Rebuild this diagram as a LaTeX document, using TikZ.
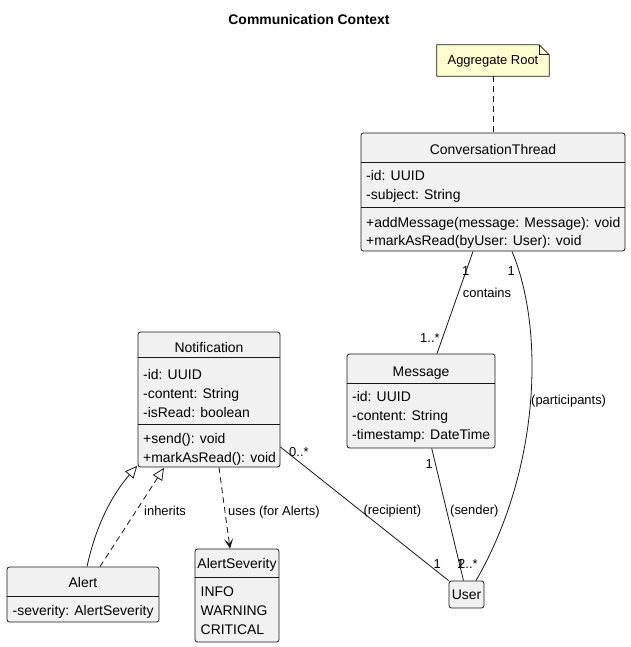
\documentclass[tikz,border=0pt]{standalone}
\usepackage{fontspec}
\setmainfont{Liberation Sans}
\usetikzlibrary{arrows.meta,calc}
\definecolor{boxfill}{HTML}{F1F1F1}
\definecolor{boxline}{HTML}{181818}
\definecolor{notefill}{HTML}{FEFECE}
\begin{document}
\begin{tikzpicture}[x=1bp,y=-1bp,
  cls/.style={draw=boxline, fill=boxfill, rounded corners=2.5bp, inner sep=0pt, line width=0.8bp},
  sepline/.style={draw=boxline, line width=0.8bp},
  cname/.style={anchor=base, inner sep=0pt, font=\fontsize{14}{16}\selectfont},
  mem/.style={anchor=base west, inner sep=0pt, font=\fontsize{14}{16}\selectfont},
  elabel/.style={anchor=base west, inner sep=0pt, font=\fontsize{13}{15}\selectfont},
  conn/.style={draw=boxline, line width=0.8bp},
  dashedconn/.style={draw=boxline, line width=0.8bp, dash pattern=on 6bp off 4bp},
  inh/.style={-{Triangle[open,length=12bp,width=11bp]}},
  dep/.style={-{Stealth[length=10bp,width=9bp,inset=5bp]}}
]
\useasboundingbox (0,0) rectangle (631,647);
\fill[white] (0,0) rectangle (631,647);

% title
\node[anchor=base, inner sep=0pt, font=\fontsize{14}{16}\selectfont\bfseries] (title) at (309,25) {Communication Context};

% note
\node[minimum width=112bp, minimum height=31bp, inner sep=0pt] (note) at (493,60.5) {};
\draw[draw=boxline, fill=notefill, line width=0.8bp]
  (note.north west) -- ($(note.north east)+(-10,0)$) -- ($(note.north east)+(0,10)$)
  -- (note.south east) -- (note.south west) -- cycle;
\draw[draw=boxline, line width=0.8bp] ($(note.north east)+(-10,0)$) -- ($(note.north east)+(-10,10)$) -- ($(note.north east)+(0,10)$);
\node[elabel, anchor=base] (notetext) at (493,65) {Aggregate Root};

% ConversationThread
\node[cls, minimum width=264bp, minimum height=118bp] (ct) at (493,192) {};
\draw[sepline] (ct.west |- 0,162) -- (ct.east |- 0,162);
\draw[sepline] (ct.west |- 0,207) -- (ct.east |- 0,207);
\node[cname] (ctn) at (493,155) {ConversationThread};
\node[mem] (ct1) at (366,181) {-id: UUID};
\node[mem] (ct2) at (366,199) {-subject: String};
\node[mem] (ct3) at (366,227) {+addMessage(message: Message): void};
\node[mem] (ct4) at (366,245) {+markAsRead(byUser: User): void};

% Message
\node[cls, minimum width=148bp, minimum height=94bp] (msg) at (421,401) {};
\draw[sepline] (msg.west |- 0,383) -- (msg.east |- 0,383);
\node[cname] (msgn) at (421,376) {Message};
\node[mem] (m1) at (352,401.5) {-id: UUID};
\node[mem] (m2) at (352,420.5) {-content: String};
\node[mem] (m3) at (352,439.5) {-timestamp: DateTime};

% Notification
\node[cls, minimum width=142bp, minimum height=135bp] (nt) at (209,399.5) {};
\draw[sepline] (nt.west |- 0,357) -- (nt.east |- 0,357);
\draw[sepline] (nt.west |- 0,424) -- (nt.east |- 0,424);
\node[cname] (ntn) at (209,352) {Notification};
\node[mem] (n1) at (143,379) {-id: UUID};
\node[mem] (n2) at (143,398) {-content: String};
\node[mem] (n3) at (143,417) {-isRead: boolean};
\node[mem] (n4) at (143,443) {+send(): void};
\node[mem] (n5) at (143,462) {+markAsRead(): void};

% User
\node[cls, minimum width=35bp, minimum height=27bp] (user) at (466.5,594.5) {};
\node[cname] (usern) at (466.5,599) {User};

% Alert
\node[cls, minimum width=152bp, minimum height=55bp] (al) at (83,594.5) {};
\draw[sepline] (al.west |- 0,596) -- (al.east |- 0,596);
\node[cname] (aln) at (83,587) {Alert};
\node[mem] (a1) at (12.5,615.5) {-severity: AlertSeverity};

% AlertSeverity
\node[cls, minimum width=84bp, minimum height=93bp] (as) at (237,595.5) {};
\draw[sepline] (as.west |- 0,577.5) -- (as.east |- 0,577.5);
\node[cname] (asn) at (237,568.3) {AlertSeverity};
\node[mem] (s1) at (200.5,596) {INFO};
\node[mem] (s2) at (200.5,615) {WARNING};
\node[mem] (s3) at (200.5,634) {CRITICAL};

% note link
\draw[dashedconn] (note.south) -- (ct.north);

% contains
\draw[conn] ($(ct.south)+(-20,0)$) -- ($(msg.north)+(16,0)$);
\node[elabel] (l1) at (462,275) {1};
\node[elabel] (l2) at (462.7,297) {contains};
\node[elabel] (l3) at (420,342.7) {1..*};

% participants
\draw[conn] ($(ct.south)+(19,0)$) .. controls (545,330) and (540,470) .. ($(user.north)+(9.5,0)$);
\node[elabel] (l4) at (507.5,275) {1};
\node[elabel] (l5) at (531,404) {(participants)};
\node[elabel] (l6) at (458,568) {2..*};

% sender
\draw[conn] ($(msg.south)+(10.7,0)$) -- ($(user.north)+(-3,0)$);
\node[elabel] (l7) at (425.5,468) {1};
\node[elabel] (l8) at (450,514) {(sender)};
\node[elabel] (l9) at (457,568) {1};

% recipient
\draw[conn] ($(nt.east)+(0,47.5)$) -- (user.north west);
\node[elabel] (l10) at (289,456) {0..*};
\node[elabel] (l11) at (363.3,514) {(recipient)};
\node[elabel] (l12) at (433.5,568) {1};

% inheritance
\draw[conn, inh] ($(al.north)+(4,0)$) .. controls (96,525) and (112,495) .. ($(nt.south west)+(-0.5,-1.5)$);
\draw[dashedconn, inh] ($(al.north)+(17,0)$) -- ($(nt.south)+(-45,0.5)$);
\node[elabel] (l13) at (144,515) {inherits};

% uses
\draw[dashedconn, dep] ($(nt.south)+(10,0)$) -- ($(as.north)+(-7,0)$);
\node[elabel] (l14) at (228,515) {uses (for Alerts)};
\end{tikzpicture}
\end{document}
